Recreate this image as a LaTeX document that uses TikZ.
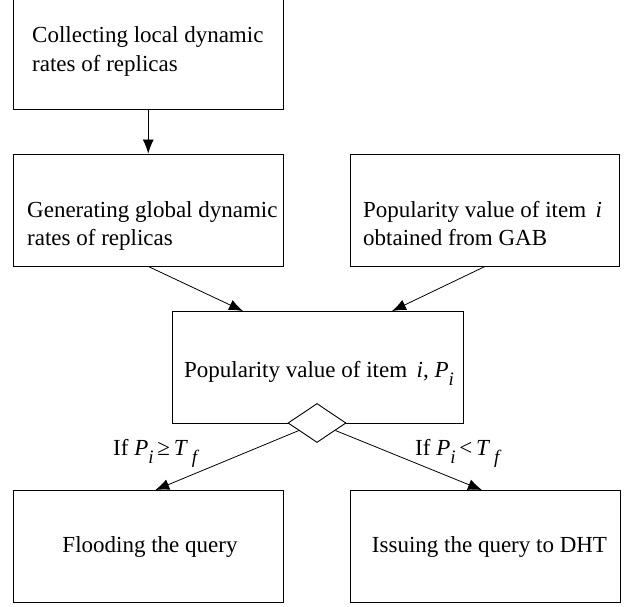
\documentclass[tikz,border=0pt]{standalone}
\usepackage{fontspec}
\setmainfont{Liberation Serif}
\usetikzlibrary{arrows.meta,positioning,shapes.geometric}
\newcommand{\lowsub}[1]{\raisebox{-8pt}{\fontsize{19}{19}\selectfont\itshape #1}}

\begin{document}
\begin{tikzpicture}[x=1pt,y=-1pt,
  box/.style={draw,line width=0.9pt,minimum width=269.5pt,minimum height=112pt,inner sep=0pt},
  choice/.style={draw,diamond,fill=white,line width=0.9pt,minimum width=58pt,minimum height=39pt,inner sep=0pt},
  txt/.style={font=\fontsize{23}{28.5}\selectfont,inner sep=0pt,anchor=base west},
  link/.style={->,line width=0.8pt},
  >={Latex[length=14pt,width=11pt]}]
  \useasboundingbox (0,0) rectangle (624,607);

  \node[box] (collect) at (148.25,53) {};
  \node[txt] (collecttext) at (32,43) {\parbox[t]{250pt}{Collecting local dynamic\\rates of replicas}};

  \node[box] (gen) at (148.25,210) {};
  \node[txt] (gentext) at (27,217) {\parbox[t]{255pt}{Generating global dynamic\\rates of replicas}};

  \node[box] (gab) at (485,210) {};
  \node[txt] (gabtext) at (363,217) {\parbox[t]{250pt}{Popularity value of item~\,\textit{i}\\obtained from GAB}};

  \node[box,minimum width=291pt,minimum height=111.5pt] (pop) at (317.5,367.25) {};
  \node[txt] (poptext) at (184,377) {Popularity value of item~\,\textit{i}, \textit{P}\lowsub{i}};
  \node[choice] (dia) at (317,423) {};

  \node[box] (flood) at (148.25,546.5) {};
  \node[txt,anchor=base] (floodtext) at (150,552) {Flooding the query};

  \node[box] (issue) at (485.5,546.5) {};
  \node[txt,anchor=base] (issuetext) at (489.5,552) {Issuing the query to DHT};

  %% conditions
  \node[txt] (geqlabel) at (113,455) {If \textit{P}\lowsub{i}\,≥\,\textit{T}\,\lowsub{f}};
  \node[txt] (ltlabel) at (415,455) {If \textit{P}\lowsub{i}\,<\,\textit{T}\,\lowsub{f}};

  \draw[link] (collect) -- (gen);
  \draw[link] (gen.south) -- ([xshift=-74.5pt]pop.north);
  \draw[link] (gab.south) -- ([xshift=74.5pt]pop.north);
  \draw[link] (dia) -- ([xshift=7pt]flood.north);
  \draw[link] (dia) -- ([xshift=-3.5pt]issue.north);
\end{tikzpicture}
\end{document}
